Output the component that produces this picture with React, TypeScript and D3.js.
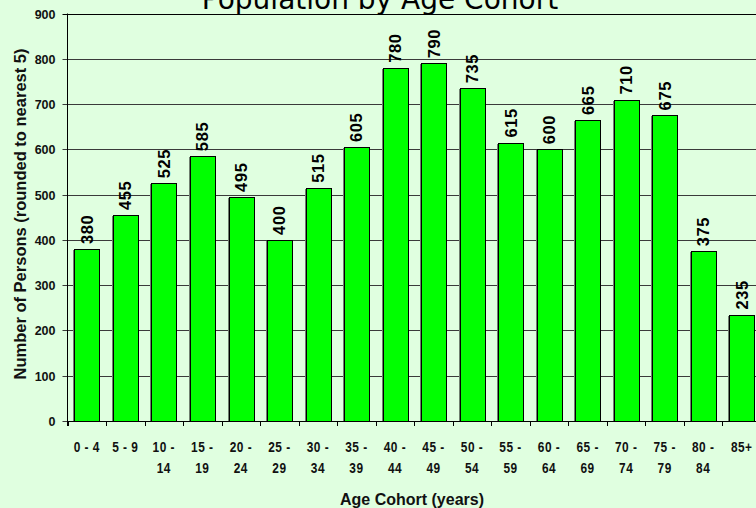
import React from "react";
import * as d3 from "d3";

// age cohorts and persons per cohort (rounded to nearest 5)
const cohortLine1 = ["0 - 4", "5 - 9", "10 -", "15 -", "20 -", "25 -", "30 -", "35 -", "40 -", "45 -", "50 -", "55 -", "60 -", "65 -", "70 -", "75 -", "80 -", "85+"];
const cohortLine2 = ["", "", "14", "19", "24", "29", "34", "39", "44", "49", "54", "59", "64", "69", "74", "79", "84", ""];
const persons = [380, 455, 525, 585, 495, 400, 515, 605, 780, 790, 735, 615, 600, 665, 710, 675, 375, 235];
const yTicks = [0, 100, 200, 300, 400, 500, 600, 700, 800, 900];

const W = 756;
const H = 508;
const margin = { left: 67.5, top: 13.5, right: -5, bottom: 87 };
const arial = "Liberation Sans, Arial, sans-serif";

export default function App() {
  const x = d3
    .scaleBand<number>()
    .domain(d3.range(persons.length))
    .range([margin.left, W - margin.right])
    .paddingInner(0.36)
    .paddingOuter(0.18);
  const y = d3
    .scaleLinear()
    .domain([0, 900])
    .range([H - margin.bottom, margin.top]);

  const step = x.step();
  const x0 = margin.left;
  const yb = y(0);

  return (
    <svg width={W} height={H} style={{ position: "absolute", left: 0, top: 0 }}>
      <rect x={0} y={0} width={W} height={H} fill="#e0ffe0" />
      <text x={380} y={9} textAnchor="middle" fontFamily="DejaVu Sans, Verdana, sans-serif" fontSize={28} fill="#000">
        Population by Age Cohort
      </text>

      {/* grid lines */}
      {yTicks.map(t => (
        <line key={t} x1={x0 - 5} x2={W} y1={Math.round(y(t)) + 0.5} y2={Math.round(y(t)) + 0.5} stroke={t === 900 ? "#000" : "#3a3a3a"} strokeWidth={1} />
      ))}
      {yTicks.map(t => (
        <text key={"l" + t} x={x0 - 12} y={Math.round(y(t)) + 4.5} textAnchor="end" fontFamily={arial} fontWeight="bold" fontSize={12.5} fill="#111">
          {t}
        </text>
      ))}

      {/* bars with a thin shadow on the left */}
      {persons.map((v, i) => (
        <line key={"s" + i} x1={Math.round(x(i)!) - 0.5} x2={Math.round(x(i)!) - 0.5} y1={Math.round(y(v)) + 1} y2={yb} stroke="#6f7f6f" strokeWidth={1} />
      ))}
      {persons.map((v, i) => (
        <rect key={i} x={Math.round(x(i)!) + 0.5} y={Math.round(y(v)) + 0.5} width={Math.round(x.bandwidth())} height={Math.round(yb - y(v))} fill="#00ff00" stroke="#000" strokeWidth={1} />
      ))}
      {persons.map((v, i) => {
        const cx = x(i)! + x.bandwidth() / 2;
        const cy = y(v) - 5;
        return (
          <text key={"v" + i} transform={`translate(${cx + 6},${cy}) rotate(-90)`} fontFamily={arial} fontWeight="bold" fontSize={16.5} letterSpacing={0.6} fill="#000">
            {v}
          </text>
        );
      })}

      {/* axes */}
      <line x1={x0} x2={x0} y1={margin.top} y2={yb + 5} stroke="#000" />
      <line x1={x0} x2={W} y1={Math.round(yb) + 0.5} y2={Math.round(yb) + 0.5} stroke="#000" />
      {d3.range(persons.length + 1).map(i => (
        <line key={"t" + i} x1={Math.round(x0 + i * step) + 0.5} x2={Math.round(x0 + i * step) + 0.5} y1={yb} y2={yb + 5} stroke="#000" />
      ))}
      {persons.map((_, i) => {
        const cx = x(i)! + x.bandwidth() / 2;
        return (
          <g key={"c" + i} transform={`translate(${cx},0) scale(0.82,1)`} fontFamily={arial} fontWeight="bold" fontSize={14.5} fill="#111" textAnchor="middle" letterSpacing={0.6}>
            <text x={0} y={452}>{cohortLine1[i]}</text>
            <text x={0} y={473}>{cohortLine2[i]}</text>
          </g>
        );
      })}

      <text x={412} y={505} textAnchor="middle" fontFamily={arial} fontWeight="bold" fontSize={16} fill="#111">
        Age Cohort (years)
      </text>
      <text transform={`translate(26,214) rotate(-90)`} textAnchor="middle" fontFamily={arial} fontWeight="bold" fontSize={16.5} fill="#111">
        Number of Persons (rounded to nearest 5)
      </text>
    </svg>
  );
}
